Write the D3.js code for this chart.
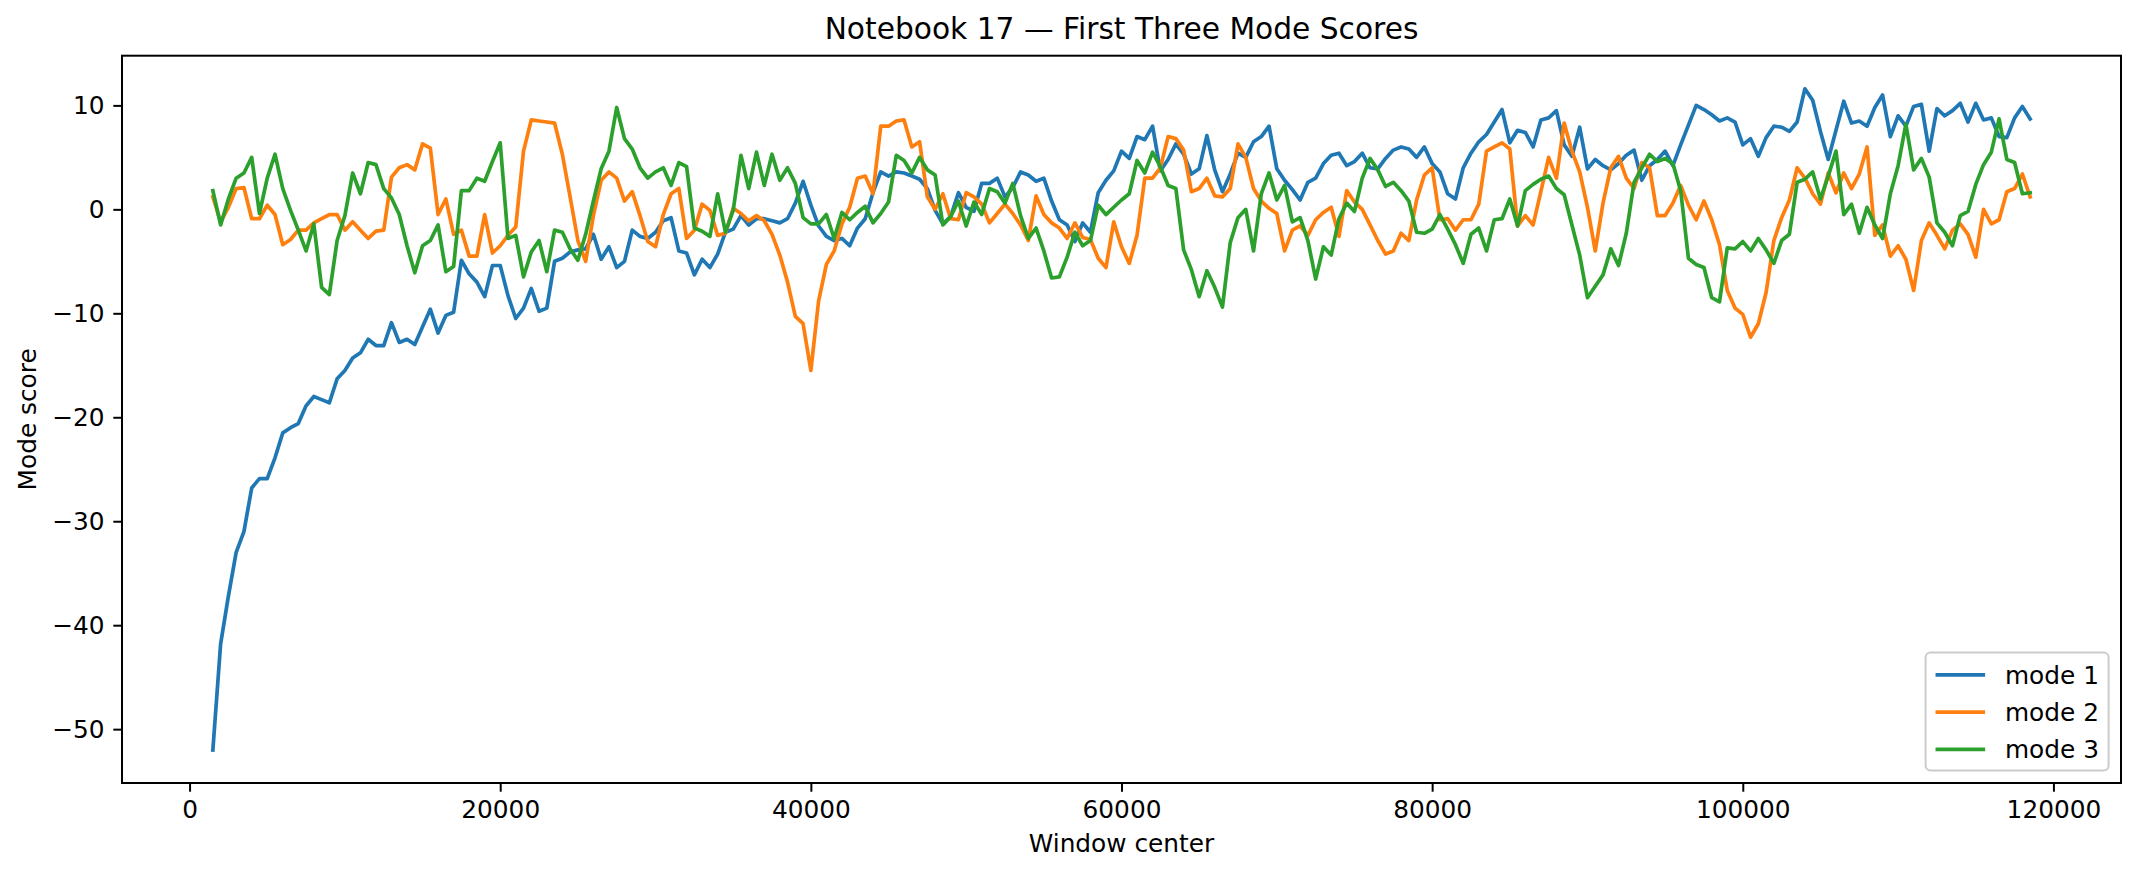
<!DOCTYPE html>
<html>
<head>
<meta charset="utf-8">
<script src="https://cdn.jsdelivr.net/npm/d3@7"></script>
<style>
  body { margin: 0; background: #fff; }
  text { font-family: "DejaVu Sans", sans-serif; fill: #000; }
</style>
</head>
<body>
<div id="chart"></div>
<script>
// Labels
const chartTitle = "Notebook 17 — First Three Mode Scores";
const xLabel = "Window center";
const yLabel = "Mode score";
const seriesNames = ["mode 1", "mode 2", "mode 3"];
const seriesColors = ["#1f77b4", "#ff7f0e", "#2ca02c"];
const xTicks = [0, 20000, 40000, 60000, 80000, 100000, 120000];
const yTicks = [-50, -40, -30, -20, -10, 0, 10];

// Window centers: first window at 1500, one window every 500 samples
const windowCenters = d3.range(1500, 118501, 500);

// Scores, one value per window center
const mode1 = [
  -52.0, -41.8, -37.2, -33.0, -31.0, -26.8, -25.9, -25.9, -23.9, -21.5,
  -21.0, -20.6, -18.9, -18.0, -18.3, -18.6, -16.3, -15.5, -14.3, -13.8,
  -12.5, -13.1, -13.1, -10.9, -12.8, -12.5, -13.0, -11.3, -9.6, -11.9,
  -10.2, -9.9, -4.9, -6.2, -7.0, -8.4, -5.4, -5.4, -8.3, -10.5,
  -9.5, -7.6, -9.8, -9.5, -5.0, -4.7, -4.1, -3.9, -3.8, -2.4,
  -4.8, -3.6, -5.6, -5.0, -2.0, -2.6, -2.8, -2.2, -1.1, -0.8,
  -4.0, -4.2, -6.3, -4.8, -5.6, -4.3, -2.2, -1.9, -0.6, -1.5,
  -0.9, -0.9, -1.1, -1.3, -0.9, 0.6, 2.7, 0.4, -1.6, -2.6,
  -3.0, -2.8, -3.5, -1.8, -0.9, 1.6, 3.6, 3.2, 3.6, 3.5,
  3.2, 2.9, 2.0, -0.1, -1.4, -0.7, 1.6, 0.2, -0.2, 2.5,
  2.5, 3.0, 1.2, 2.1, 3.6, 3.3, 2.7, 3.0, 0.8, -1.0,
  -1.5, -3.1, -1.3, -2.2, 1.6, 2.8, 3.7, 5.6, 4.9, 7.0,
  6.7, 8.0, 3.7, 4.8, 6.3, 5.3, 3.4, 3.9, 7.1, 3.8,
  1.7, 3.4, 5.4, 5.0, 6.5, 7.0, 8.0, 3.9, 2.8, 1.9,
  0.9, 2.6, 3.0, 4.4, 5.2, 5.4, 4.2, 4.6, 5.4, 4.0,
  3.9, 4.9, 5.7, 6.0, 5.8, 5.0, 6.0, 4.4, 3.6, 1.5,
  1.0, 4.0, 5.4, 6.5, 7.2, 8.4, 9.6, 6.4, 7.6, 7.4,
  6.0, 8.6, 8.8, 9.5, 6.2, 5.1, 7.9, 3.9, 4.8, 4.2,
  3.8, 4.4, 5.2, 5.7, 2.8, 4.2, 4.8, 5.6, 4.2, 6.2,
  8.1, 10.0, 9.6, 9.1, 8.5, 8.8, 8.4, 6.2, 6.8, 5.1,
  6.9, 8.0, 7.9, 7.5, 8.4, 11.6, 10.5, 7.5, 4.8, 7.6,
  10.4, 8.3, 8.5, 8.0, 9.8, 11.0, 7.0, 9.0, 8.0, 9.9,
  10.1, 5.6, 9.7, 9.0, 9.5, 10.2, 8.4, 10.2, 8.6, 8.8,
  7.0, 6.9, 8.8, 9.9, 8.7
];

const mode2 = [
  1.2, -1.2, 0.2, 2.0, 2.1, -0.9, -0.9, 0.4, -0.5, -3.4,
  -2.9, -2.0, -2.0, -1.3, -0.9, -0.5, -0.5, -2.0, -1.2, -2.0,
  -2.8, -2.1, -2.0, 3.1, 4.0, 4.3, 3.8, 6.3, 5.9, -0.5,
  1.0, -2.4, -2.0, -4.5, -4.5, -0.5, -4.2, -3.5, -2.5, -1.7,
  5.6, 8.6, 8.5, 8.4, 8.3, 5.3, 1.2, -3.0, -5.0, -0.6,
  2.8, 3.6, 3.0, 0.8, 1.7, -0.6, -3.1, -3.6, -0.5, 1.5,
  2.0, -2.8, -2.0, 0.5, -0.1, -2.5, -2.3, 0.1, -0.4, -1.1,
  -0.6, -1.1, -2.4, -4.4, -7.0, -10.3, -11.0, -15.5, -8.8, -5.3,
  -4.0, -1.4, 0.2, 3.0, 3.2, 1.5, 8.0, 8.0, 8.5, 8.6,
  6.0, 6.5, 1.2, 0.0, 1.5, -0.9, -1.0, 1.6, 1.2, 0.5,
  -1.3, -0.4, 0.5, -0.4, -1.5, -3.0, 1.3, -0.5, -1.3, -1.8,
  -2.8, -1.3, -2.7, -2.9, -4.7, -5.6, -1.2, -3.6, -5.2, -2.5,
  3.0, 3.0, 4.0, 7.0, 6.8, 5.7, 1.7, 2.0, 3.0, 1.3,
  1.2, 2.0, 6.3, 5.0, 2.0, 0.8, 0.1, -0.4, -4.0, -2.0,
  -1.6, -2.5, -1.0, -0.3, 0.2, -2.6, 1.8, 0.7, 0.0, -1.5,
  -3.0, -4.3, -4.0, -2.3, -3.0, 0.9, 3.3, 4.0, -1.0, -0.9,
  -2.0, -1.0, -1.0, 0.5, 5.6, 6.0, 6.4, 5.8, -1.6, -0.6,
  -1.5, 1.7, 5.0, 3.0, 8.3, 5.6, 3.6, 0.2, -4.0, 0.6,
  4.0, 5.1, 3.0, 2.0, 4.5, 4.0, -0.6, -0.6, 0.6, 2.3,
  0.4, -1.0, 0.8, -1.0, -3.4, -7.8, -9.5, -10.1, -12.3, -11.0,
  -8.0, -3.0, -0.8, 0.9, 4.0, 3.0, 1.5, 0.5, 3.5, 1.6,
  3.5, 2.0, 3.4, 6.0, -2.5, -1.5, -4.5, -3.5, -4.8, -7.8,
  -3.0, -1.3, -2.5, -3.8, -2.0, -1.4, -2.4, -4.6, 0.0, -1.4,
  -1.0, 1.7, 2.0, 3.4, 1.2
];

const mode3 = [
  1.8, -1.5, 1.0, 3.0, 3.5, 5.0, -0.4, 3.0, 5.3, 2.0,
  -0.1, -2.0, -4.0, -1.4, -7.5, -8.2, -3.0, -0.6, 3.5, 1.5,
  4.5, 4.3, 2.0, 1.1, -0.5, -3.5, -6.1, -3.5, -3.0, -1.5,
  -6.0, -5.5, 1.8, 1.8, 3.0, 2.7, 4.6, 6.4, -2.8, -2.5,
  -6.5, -4.1, -3.0, -6.0, -2.0, -2.2, -3.8, -4.9, -2.4, 0.8,
  3.9, 5.6, 9.8, 6.8, 5.8, 4.0, 3.0, 3.6, 4.0, 2.3,
  4.5, 4.1, -1.8, -2.1, -2.6, 1.5, -2.2, -0.1, 5.2, 2.0,
  5.5, 2.3, 5.3, 2.8, 4.0, 2.5, -0.8, -1.4, -1.4, -0.5,
  -2.8, -0.3, -1.0, -0.3, 0.3, -1.3, -0.4, 0.7, 5.2, 4.7,
  3.5, 5.0, 3.8, 3.3, -1.5, -0.7, 0.8, -1.6, 0.7, -0.5,
  2.0, 1.7, 0.6, 2.5, -0.6, -2.8, -1.8, -4.0, -6.6, -6.5,
  -4.6, -2.2, -3.5, -3.0, 0.4, -0.5, 0.2, 0.9, 1.5, 4.7,
  3.5, 5.5, 4.1, 2.3, 2.0, -3.9, -5.8, -8.4, -5.9, -7.5,
  -9.4, -3.2, -0.8, 0.0, -4.0, 1.5, 3.5, 0.9, 2.3, -1.2,
  -0.8, -3.0, -6.7, -3.6, -4.4, -0.9, 0.6, -0.2, 3.0, 4.9,
  3.8, 2.2, 2.6, 1.8, 0.8, -2.2, -2.3, -1.9, -0.5, -1.9,
  -3.4, -5.2, -2.4, -1.8, -4.0, -1.0, -0.9, 1.0, -1.6, 1.8,
  2.4, 2.9, 3.2, 2.0, 1.4, -1.5, -4.4, -8.5, -7.4, -6.3,
  -3.8, -5.4, -2.3, 2.6, 4.0, 5.3, 4.6, 4.9, 4.4, 1.8,
  -4.7, -5.3, -5.6, -8.5, -8.9, -3.7, -3.8, -3.1, -4.0, -2.8,
  -3.9, -5.2, -3.0, -2.4, 2.6, 2.9, 3.6, 1.0, 3.2, 5.6,
  -0.5, 0.5, -2.3, 0.2, -1.5, -2.8, 1.5, 4.2, 8.2, 3.8,
  4.9, 3.1, -1.3, -2.2, -3.5, -0.6, -0.2, 2.4, 4.3, 5.5,
  8.7, 4.8, 4.5, 1.5, 1.6
];

const allSeries = [mode1, mode2, mode3];
console.log("lengths", windowCenters.length, mode1.length, mode2.length, mode3.length);

// Figure size and axes box
const figWidth = 2141;
const figHeight = 877;
const margin = { top: 55.7, right: 20, bottom: 94, left: 122 };
const width = figWidth - margin.left - margin.right;
const height = figHeight - margin.top - margin.bottom;

// matplotlib-ish sizes (dpi ~178)
const fontSize = 24.8;
const titleSize = 29.7;
const tickLen = 8.7;
const tickPad = 8.7;

const svg = d3.select("#chart").append("svg")
    .attr("width", figWidth)
    .attr("height", figHeight);

const g = svg.append("g")
    .attr("transform", "translate(" + margin.left + "," + margin.top + ")");

// Scales with 5% padding like matplotlib autoscale
const xMin = d3.min(windowCenters), xMax = d3.max(windowCenters);
const xPad = (xMax - xMin) * 0.05;
const x = d3.scaleLinear()
    .domain([xMin - xPad, xMax + xPad])
    .range([0, width]);

const yMin = d3.min(allSeries, s => d3.min(s));
const yMax = d3.max(allSeries, s => d3.max(s));
const yPad = (yMax - yMin) * 0.05;
const y = d3.scaleLinear()
    .domain([yMin - yPad, yMax + yPad])
    .range([height, 0]);

// Clip lines to the axes box
g.append("clipPath").attr("id", "plotClip")
    .append("rect").attr("width", width).attr("height", height);

const line = d3.line()
    .x((d, i) => x(windowCenters[i]))
    .y(d => y(d));

const lines = g.append("g").attr("clip-path", "url(#plotClip)");
allSeries.forEach(function (values, k) {
    lines.append("path")
        .datum(values)
        .attr("fill", "none")
        .attr("stroke", seriesColors[k])
        .attr("stroke-width", 3.7)
        .attr("stroke-linejoin", "round")
        .attr("stroke-linecap", "square")
        .attr("d", line);
});

// Axes
const xAxis = d3.axisBottom(x)
    .tickValues(xTicks)
    .tickFormat(d3.format("d"))
    .tickSize(tickLen)
    .tickPadding(tickPad);
const yAxis = d3.axisLeft(y)
    .tickValues(yTicks)
    .tickSize(tickLen)
    .tickPadding(tickPad);

const gx = g.append("g")
    .attr("transform", "translate(0," + height + ")")
    .call(xAxis);
const gy = g.append("g").call(yAxis);

[gx, gy].forEach(function (ax) {
    ax.select(".domain").remove();
    ax.selectAll(".tick line").attr("stroke", "#000").attr("stroke-width", 2);
    ax.selectAll(".tick text")
        .style("font-family", "'DejaVu Sans', sans-serif")
        .style("font-size", fontSize + "px")
        .attr("fill", "#000");
});

// Axes frame (all four spines)
g.append("rect")
    .attr("width", width)
    .attr("height", height)
    .attr("fill", "none")
    .attr("stroke", "#000")
    .attr("stroke-width", 2);

// Axis labels and title
g.append("text")
    .attr("x", width / 2)
    .attr("y", height + 69)
    .attr("text-anchor", "middle")
    .style("font-size", fontSize + "px")
    .text(xLabel);

g.append("text")
    .attr("transform", "rotate(-90)")
    .attr("x", -height / 2)
    .attr("y", -86)
    .attr("text-anchor", "middle")
    .style("font-size", fontSize + "px")
    .text(yLabel);

g.append("text")
    .attr("x", width / 2)
    .attr("y", -16.5)
    .attr("text-anchor", "middle")
    .style("font-size", titleSize + "px")
    .text(chartTitle);

// Legend, lower right
const em = fontSize;
const legendW = 183, legendH = 118;
const legendX = width - 0.5 * em - legendW;
const legendY = height - 0.5 * em - legendH;
const legend = g.append("g")
    .attr("transform", "translate(" + legendX + "," + legendY + ")");

legend.append("rect")
    .attr("width", legendW)
    .attr("height", legendH)
    .attr("rx", 5)
    .attr("fill", "#fff")
    .attr("fill-opacity", 0.8)
    .attr("stroke", "#cccccc")
    .attr("stroke-width", 2);

seriesNames.forEach(function (name, i) {
    const cy = 0.4 * em + 0.5 * em + i * 1.5 * em;
    legend.append("line")
        .attr("x1", 0.4 * em)
        .attr("x2", 0.4 * em + 2 * em)
        .attr("y1", cy)
        .attr("y2", cy)
        .attr("stroke", seriesColors[i])
        .attr("stroke-width", 3.7);
    legend.append("text")
        .attr("x", 0.4 * em + 2.8 * em)
        .attr("y", cy)
        .attr("dy", "0.35em")
        .style("font-size", fontSize + "px")
        .text(name);
});
</script>
</body>
</html>
